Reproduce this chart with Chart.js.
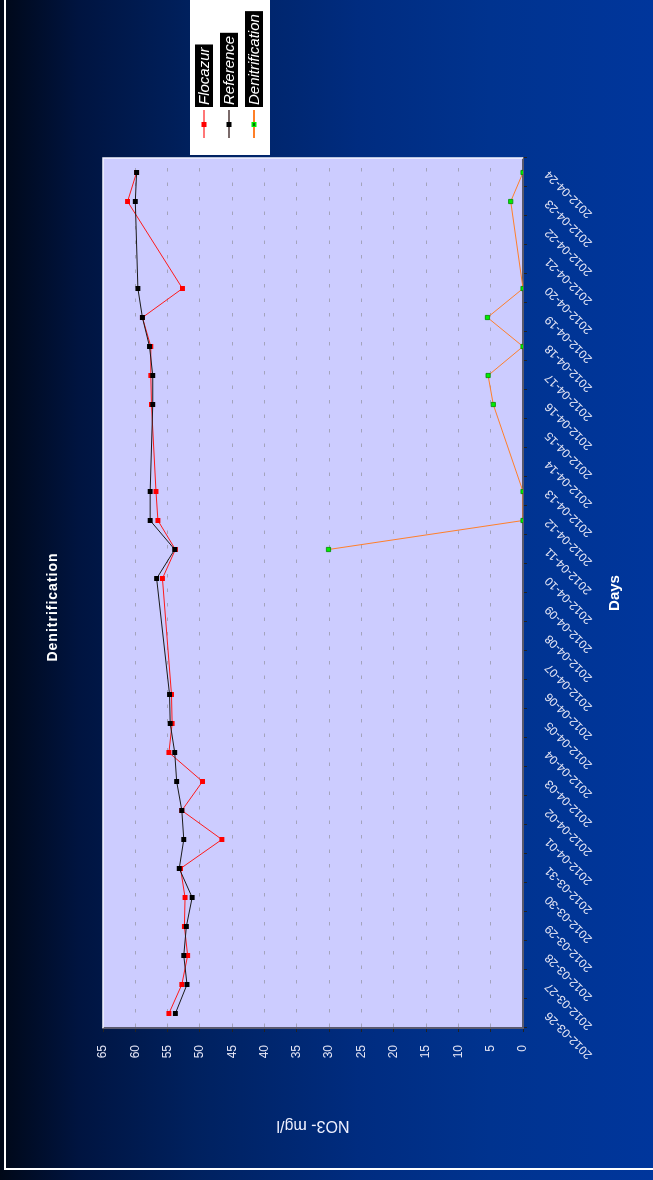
<!DOCTYPE html>
<html>
<head>
<meta charset="utf-8">
<script src="https://cdn.jsdelivr.net/npm/chart.js@4.4.1/dist/chart.umd.min.js"></script>
<style>
html,body{margin:0;padding:0;width:653px;height:1180px;overflow:hidden;background:#00339a;}
#wrap{position:absolute;left:0;top:0;width:1180px;height:653px;transform-origin:0 0;
  transform:translateY(1180px) rotate(-90deg);
  background:linear-gradient(to bottom,#000818 0%,#001440 12%,#00215f 30%,#002c80 55%,#00338f 75%,#00369c 100%);}
canvas{display:block}
</style>
</head>
<body>
<div id="wrap"><canvas id="c" width="1180" height="653"></canvas></div>
<script>
const days = ['2012-03-26','2012-03-27','2012-03-28','2012-03-29','2012-03-30','2012-03-31',
  '2012-04-01','2012-04-02','2012-04-03','2012-04-04','2012-04-05','2012-04-06','2012-04-07',
  '2012-04-08','2012-04-09','2012-04-10','2012-04-11','2012-04-12','2012-04-13','2012-04-14',
  '2012-04-15','2012-04-16','2012-04-17','2012-04-18','2012-04-19','2012-04-20','2012-04-21',
  '2012-04-22','2012-04-23','2012-04-24'];
const flocazur = [54.8,52.8,51.9,52.4,52.3,53.0,46.6,52.8,49.6,54.8,54.3,54.4,null,null,null,
  55.8,53.8,56.5,56.8,null,null,57.5,57.6,57.6,58.9,52.7,null,null,61.2,59.8];
const reference = [53.8,52.0,52.5,52.1,51.2,53.2,52.5,52.8,53.6,53.9,54.6,54.7,null,null,null,
  56.7,53.9,57.7,57.7,null,null,57.3,57.3,57.8,58.9,59.6,null,null,60.0,59.8];
const denitrification = [null,null,null,null,null,null,null,null,null,null,null,null,null,null,null,null,
  30.1,0,0,null,null,4.6,5.4,0,5.5,0,null,null,1.9,0];
const seriesNames = ['Flocazur','Reference','Denitrification'];
const chartTitle = 'Denitrification';
const xTitle = 'Days';
const yTitle = 'NO3- mg/l';
const yMin = 0, yMax = 65, yStep = 5;

const FAM = '"Liberation Sans", Arial, sans-serif';
Chart.defaults.font.family = FAM;

const decor = {
  id: 'decor',
  beforeDraw(chart) {
    const {ctx, chartArea: a} = chart;
    ctx.save();
    ctx.fillStyle = '#ccccff';
    ctx.fillRect(a.left, a.top, a.right - a.left, a.bottom - a.top);
    ctx.restore();
  },
  afterDraw(chart) {
    const {ctx, chartArea: a} = chart;
    ctx.save();
    ctx.strokeStyle = '#f4f4ff';
    ctx.lineWidth = 1.5;
    ctx.beginPath();
    ctx.moveTo(a.left, a.top); ctx.lineTo(a.right, a.top); ctx.lineTo(a.right, a.bottom);
    ctx.stroke();
    ctx.fillStyle = '#ffffff';
    ctx.font = 'bold 14px ' + FAM;
    try { ctx.letterSpacing = '1px'; } catch(e) {}
    ctx.textAlign = 'center';
    ctx.textBaseline = 'middle';
    ctx.fillText(chartTitle, 573, 53);
    try { ctx.letterSpacing = '0px'; } catch(e) {}
    ctx.fillStyle = '#ffffff';
    ctx.fillRect(1025, 190, 170, 80);
    const ys = [204, 229, 254];
    const lineCols = ['#ff7777', '#7a6a6a', '#ff7f27'];
    const mk = ['#ff0000', '#000000', '#00ee00'];
    ctx.font = 'italic 15px ' + FAM;
    ctx.textAlign = 'left';
    seriesNames.forEach((n, i) => {
      const y = ys[i];
      ctx.strokeStyle = lineCols[i];
      ctx.lineWidth = 2;
      ctx.beginPath(); ctx.moveTo(1042, y); ctx.lineTo(1070, y); ctx.stroke();
      ctx.fillStyle = mk[i];
      ctx.fillRect(1053, y - 2.5, 5, 5);
      if (i === 2) { ctx.fillStyle = '#000'; ctx.fillRect(1054, y - 0.5, 3, 1); }
      const w = ctx.measureText(n).width;
      ctx.fillStyle = '#000000';
      ctx.fillRect(1073, y - 9, w + 5, 18);
      ctx.fillStyle = '#ffffff';
      ctx.fillText(n, 1075, y + 1);
    });
    ctx.strokeStyle = '#ffffff';
    ctx.lineWidth = 2;
    ctx.strokeRect(11, 5, 1400, 900);
    ctx.restore();
  }
};

new Chart(document.getElementById('c'), {
  type: 'line',
  data: {
    labels: days,
    datasets: [
      { label: seriesNames[0], data: flocazur, order: 1, borderColor: '#ff1a1a', borderWidth: 1,
        pointStyle: 'rect', pointRadius: 3.5, pointBackgroundColor: '#ff0000', pointBorderColor: '#ff0000', pointBorderWidth: 0 },
      { label: seriesNames[1], data: reference, order: 0, borderColor: '#1a1a1a', borderWidth: 1,
        pointStyle: 'rect', pointRadius: 3.5, pointBackgroundColor: '#000000', pointBorderColor: '#000000', pointBorderWidth: 0 },
      { label: seriesNames[2], data: denitrification, order: 2, borderColor: '#ff7f2a', borderWidth: 1,
        pointStyle: 'rect', pointRadius: 3, pointBackgroundColor: '#00ee00', pointBorderColor: '#008800', pointBorderWidth: 0.8 }
    ]
  },
  options: {
    responsive: false,
    animation: false,
    spanGaps: true,
    layout: { padding: { top: 103, right: 158, bottom: 0, left: 0 } },
    plugins: { legend: { display: false }, title: { display: false }, tooltip: { enabled: false } },
    scales: {
      x: {
        offset: true,
        grid: { display: true, drawOnChartArea: false, offset: true, tickLength: 4, color: '#222', tickColor: '#222' },
        border: { color: '#5a5a6e', width: 2 },
        ticks: { color: '#e4e4f4', font: { size: 12 }, minRotation: 45, maxRotation: 45, padding: 15, autoSkip: false },
        title: { display: true, text: xTitle, color: '#ffffff', font: { size: 15, weight: 'bold' }, padding: { top: 0, bottom: 29 } },
        afterFit: s => { s.height = 130; }
      },
      y: {
        min: yMin, max: yMax,
        ticks: { stepSize: yStep, color: '#e4e4f4', font: { size: 12 }, padding: 13 },
        grid: {
          color: c => (c.tick && (c.tick.value === yMin || c.tick.value === yMax)) ? 'rgba(0,0,0,0)' : 'rgba(150,150,165,0.75)',
          tickColor: '#222', tickLength: 4, lineWidth: 1
        },
        border: { color: '#5a5a6e', width: 2, dash: [3.5, 11] },
        title: { display: true, text: yTitle, color: '#f0f0ff', font: { size: 16 }, padding: { top: 45, bottom: 0 } },
        afterFit: s => { s.width = 152; }
      }
    }
  },
  plugins: [decor]
});
</script>
</body>
</html>
